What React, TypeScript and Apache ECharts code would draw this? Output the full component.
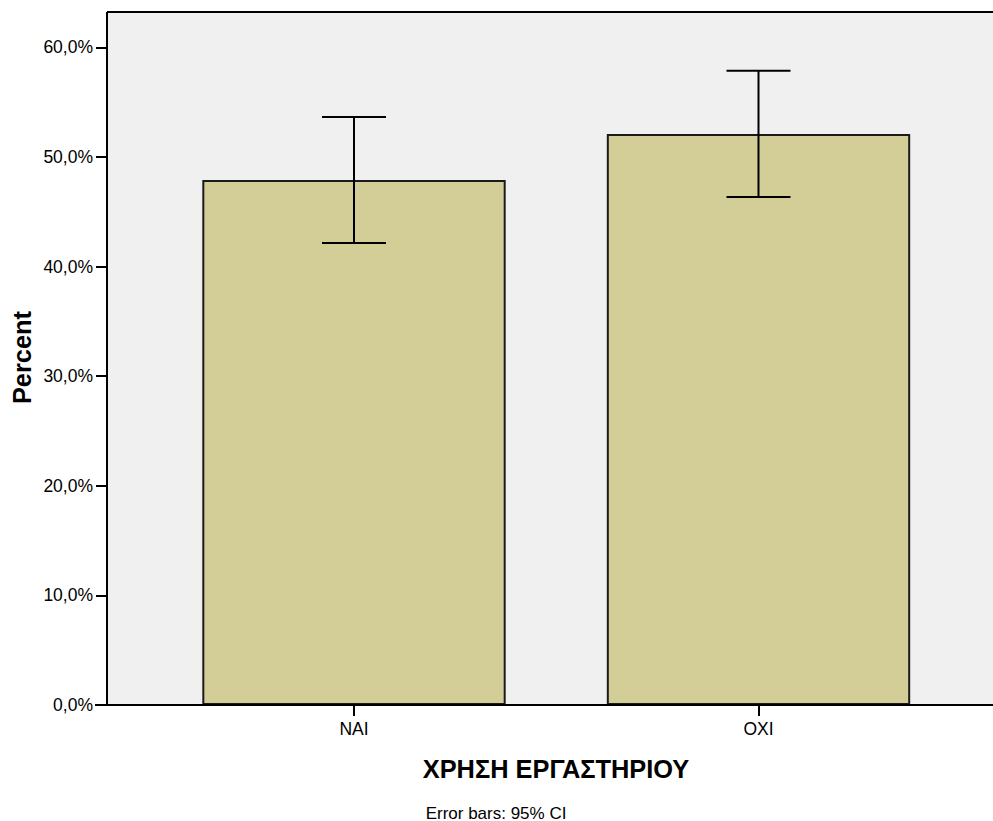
import React, { useEffect, useRef } from "react";
import * as echarts from "echarts";

const categories = ["ΝΑΙ", "ΟΧΙ"];
const percentValues = [47.9, 52.1];
const ciLow = [42.15, 46.35];
const ciHigh = [53.65, 57.85];
const yTicks = [0, 10, 20, 30, 40, 50, 60];

const FONT = "'Liberation Sans', Arial, sans-serif";

export default function App() {
  const ref = useRef<HTMLDivElement>(null);
  useEffect(() => {
    document.body.style.margin = "0";
    const chart = echarts.init(ref.current!, null, { renderer: "svg" });
    const L = 107, T = 12, R = 993, B = 705;
    const option: any = {
      animation: false,
      backgroundColor: "#ffffff",
      grid: { left: 151.75, right: 32.25, top: 47.3, bottom: 116, containLabel: false },
      xAxis: {
        type: "category",
        data: categories,
        axisLine: { show: false },
        axisTick: { show: true, alignWithLabel: true, length: 11, lineStyle: { color: "#000", width: 2 } },
        axisLabel: { margin: 15, fontSize: 17.5, color: "#000", fontFamily: FONT },
      },
      yAxis: {
        type: "value",
        min: yTicks[0],
        max: yTicks[yTicks.length - 1],
        interval: 10,
        offset: 44.75,
        axisLine: { show: false },
        splitLine: { show: false },
        axisTick: { show: true, length: 11, lineStyle: { color: "#000", width: 2 } },
        axisLabel: {
          margin: 14,
          fontSize: 17.5,
          color: "#000",
          fontFamily: FONT,
          formatter: (v: number) => v.toFixed(1).replace(".", ",") + "%",
        },
      },
      series: [
        {
          type: "bar",
          data: percentValues,
          barWidth: "75%",
          itemStyle: { color: "#d3ce98", borderColor: "#1a1a1a", borderWidth: 2 },
          z: 2,
        },
        {
          type: "custom",
          data: categories.map((_, i) => [i, ciLow[i], ciHigh[i]]),
          encode: { x: 0, y: [1, 2] },
          z: 5,
          renderItem: (params: any, api: any) => {
            const lo = api.coord([api.value(0), api.value(1)]);
            const hi = api.coord([api.value(0), api.value(2)]);
            const hw = 32;
            const style = { stroke: "#000", lineWidth: 2 };
            return {
              type: "group",
              children: [
                { type: "line", shape: { x1: lo[0], y1: lo[1], x2: hi[0], y2: hi[1] }, style },
                { type: "line", shape: { x1: hi[0] - hw, y1: hi[1], x2: hi[0] + hw, y2: hi[1] }, style },
                { type: "line", shape: { x1: lo[0] - hw, y1: lo[1], x2: lo[0] + hw, y2: lo[1] }, style },
              ],
            };
          },
        },
      ],
      graphic: [
        { type: "rect", z: -10, shape: { x: L, y: T, width: R - L, height: B - T }, style: { fill: "#f0f0f0" } },
        { type: "line", z: 100, shape: { x1: L, y1: T, x2: R, y2: T }, style: { stroke: "#000", lineWidth: 2 } },
        { type: "line", z: 100, shape: { x1: L, y1: T, x2: L, y2: B }, style: { stroke: "#000", lineWidth: 2 } },
        { type: "line", z: 100, shape: { x1: L - 12, y1: B, x2: R, y2: B }, style: { stroke: "#000", lineWidth: 2 } },
        {
          type: "text",
          x: 22,
          y: 357.5,
          rotation: Math.PI / 2,
          style: { text: "Percent", font: `bold 25.4px ${FONT}`, fill: "#000", textAlign: "center", textVerticalAlign: "middle" },
        },
        {
          type: "text",
          x: 556,
          y: 769,
          style: { text: "ΧΡΗΣΗ ΕΡΓΑΣΤΗΡΙΟΥ", font: `bold 25.4px ${FONT}`, fill: "#000", textAlign: "center", textVerticalAlign: "middle" },
        },
        {
          type: "text",
          x: 496,
          y: 813,
          style: { text: "Error bars: 95% CI", font: `17px ${FONT}`, fill: "#000", textAlign: "center", textVerticalAlign: "middle" },
        },
      ],
    };
    chart.setOption(option);
    return () => chart.dispose();
  }, []);
  return <div ref={ref} style={{ width: 993, height: 821 }} />;
}
